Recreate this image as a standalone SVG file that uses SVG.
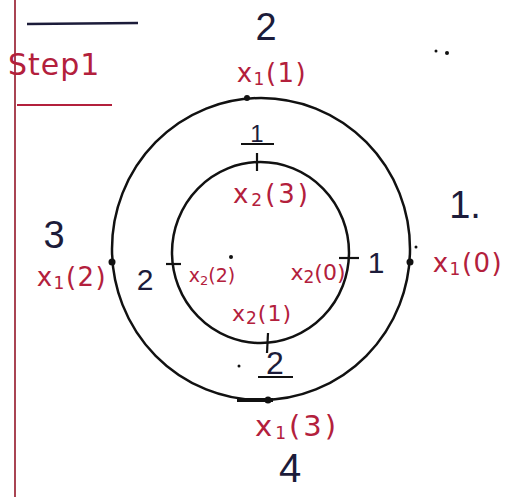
<svg xmlns="http://www.w3.org/2000/svg" width="512" height="497" viewBox="0 0 512 497">
<style>
.num{font-family:"Liberation Sans",sans-serif;font-size:38px;fill:#1c1c3a;text-anchor:middle}
.lbl{font-family:"DejaVu Sans",sans-serif;font-size:26px;fill:#b3203c;text-anchor:middle;letter-spacing:1.5px}
.sm{font-size:17px}
.ring{fill:none;stroke:#111;stroke-width:2.5}
.tick{stroke:#111;stroke-width:2.2}
.dot{fill:#111}
</style>
<rect width="512" height="497" fill="#fff"/>
<line x1="15" y1="0" x2="15" y2="497" stroke="#a03040" stroke-width="1.8"/>
<line x1="27" y1="24" x2="138" y2="23" stroke="#1c1c3a" stroke-width="2.5"/>
<text x="8" y="75" font-family="DejaVu Sans,sans-serif" font-size="30" fill="#b3203c" letter-spacing="1">Step1</text>
<line x1="17" y1="105" x2="112" y2="105" stroke="#b3203c" stroke-width="2.2"/>
<circle cx="436" cy="51" r="1.5" class="dot"/>
<circle cx="447" cy="53" r="2" class="dot"/>
<g id="connectors">
<ellipse class="ring" cx="261" cy="249" rx="149" ry="151"/>
<ellipse class="ring" cx="260.5" cy="252.5" rx="88.5" ry="90.5"/>
<line class="tick" x1="257" y1="153" x2="257" y2="171"/>
<line class="tick" x1="166" y1="264" x2="181" y2="264"/>
<line class="tick" x1="339" y1="258" x2="359" y2="258"/>
<line class="tick" x1="268" y1="333" x2="267" y2="353"/>
<line x1="241" y1="144" x2="274" y2="144" class="tick"/>
<line x1="258" y1="377" x2="293" y2="377" class="tick"/>
<path d="M237 400 L273 400" stroke="#111" stroke-width="4"/>
</g>
<g id="n-top">
<text class="num" x="266" y="40">2</text>
<text class="lbl" x="272" y="82">x<tspan class="sm" dy="3">1</tspan><tspan dy="-3">(1)</tspan></text>
<circle class="dot" cx="247" cy="98" r="3"/>
</g>
<g id="n-left">
<text class="num" x="54" y="248">3</text>
<text class="lbl" x="72" y="286">x<tspan class="sm" dy="3">1</tspan><tspan dy="-3">(2)</tspan></text>
<circle class="dot" cx="112" cy="262" r="3.5"/>
</g>
<g id="n-right">
<text class="num" x="465" y="218">1.</text>
<text class="lbl" x="468" y="272">x<tspan class="sm" dy="3">1</tspan><tspan dy="-3">(0)</tspan></text>
<circle class="dot" cx="410" cy="262" r="3.5"/>
<circle class="dot" cx="416" cy="247" r="1.5"/>
</g>
<g id="n-bottom">
<text class="lbl" x="297" y="436" style="font-size:29px;letter-spacing:3px">x<tspan class="sm" dy="3">1</tspan><tspan dy="-3">(3)</tspan></text>
<text class="num" x="290" y="482" style="font-size:40px">4</text>
<circle class="dot" cx="268" cy="400" r="3.5"/>
</g>
<g id="i-top">
<text class="num" x="257" y="142" style="font-size:24px">1</text>
<text class="lbl" x="272" y="203" style="letter-spacing:3px">x<tspan class="sm" dy="3">2</tspan><tspan dy="-3">(3)</tspan></text>
</g>
<g id="i-left">
<text class="num" x="145" y="290" style="font-size:30px">2</text>
<text class="lbl" x="212" y="282" style="font-size:19px;letter-spacing:0">x<tspan style="font-size:13px" dy="3">2</tspan><tspan dy="-3">(2)</tspan></text>
<circle class="dot" cx="231" cy="257" r="2"/>
</g>
<g id="i-right">
<text class="num" x="376" y="273" style="font-size:30px">1</text>
<text class="lbl" x="318" y="280" style="font-size:22px;letter-spacing:0">x<tspan class="sm" dy="3">2</tspan><tspan dy="-3">(0)</tspan></text>
</g>
<g id="i-bottom">
<text class="lbl" x="262" y="321" style="font-size:22px;letter-spacing:1px">x<tspan class="sm" dy="3">2</tspan><tspan dy="-3">(1)</tspan></text>
<text class="num" x="275" y="374" style="font-size:32px">2</text>
<circle class="dot" cx="239" cy="366" r="1.5"/>
</g>
</svg>
